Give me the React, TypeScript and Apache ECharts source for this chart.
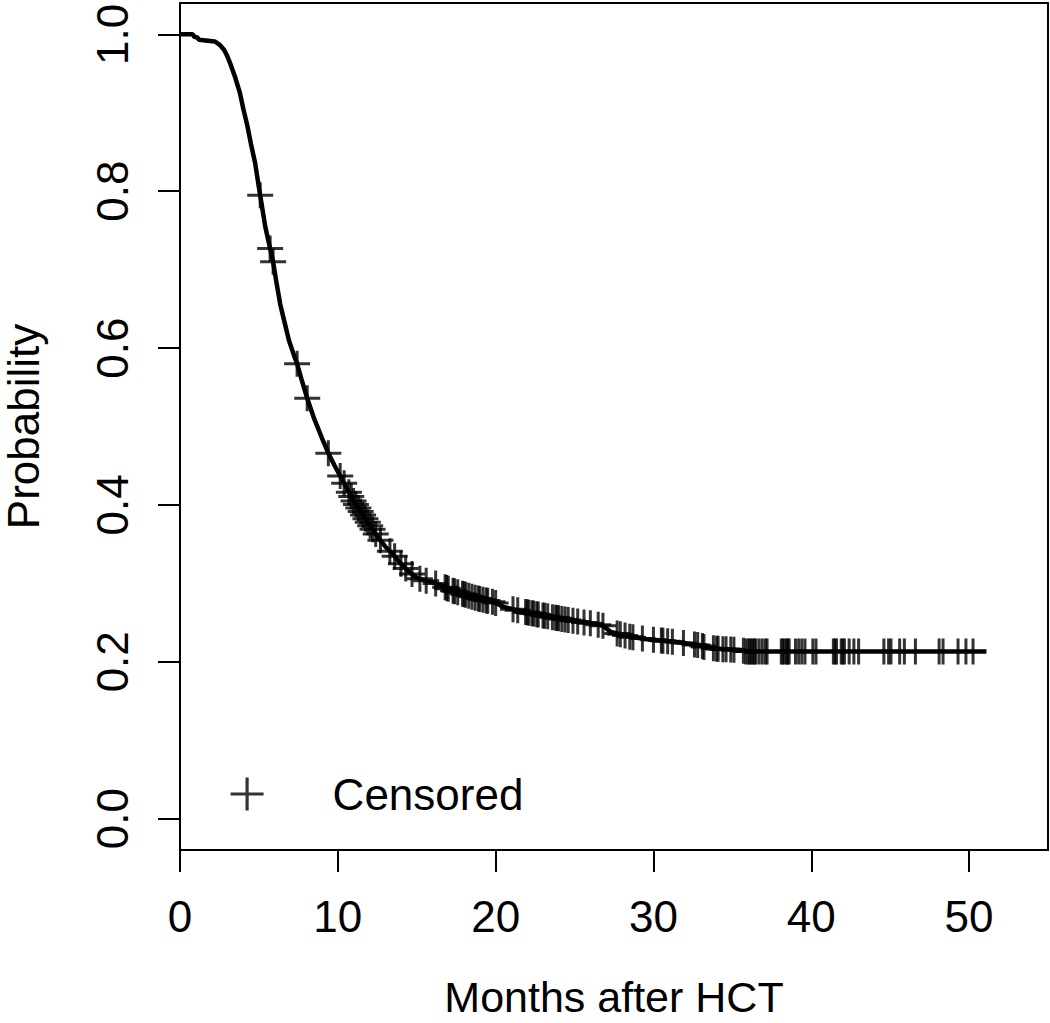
import React, { useEffect, useRef } from "react";
import * as echarts from "echarts";

const curveTimes = [0, 0.8, 0.9, 1.1, 1.2, 2.2, 2.5, 2.8, 3.0, 3.2, 3.5, 3.8, 4.0, 4.25, 4.5, 4.76, 5.0, 5.2, 5.4, 5.71, 5.9, 6.1, 6.35, 6.6, 6.9, 7.2, 7.42, 7.7, 8.06, 8.5, 9.0, 9.4, 9.8, 10.15, 10.6, 11.0, 11.5, 12.0, 12.5, 13.0, 13.5, 14.0, 14.5, 15.0, 16.0, 16.5, 17.1, 18.0, 19.0, 19.9, 20.5, 21.1, 22.0, 23.0, 24.1, 25.0, 26.0, 26.8, 27.3, 27.7, 28.5, 29.5, 30.5, 31.9, 33.0, 33.3, 34.4, 35.6, 35.8, 51.1];
const curveSurv = [1.0, 1.0, 0.997, 0.996, 0.993, 0.991, 0.987, 0.98, 0.972, 0.962, 0.945, 0.925, 0.906, 0.885, 0.86, 0.836, 0.805, 0.78, 0.755, 0.727, 0.71, 0.685, 0.656, 0.635, 0.61, 0.592, 0.58, 0.56, 0.536, 0.51, 0.485, 0.466, 0.45, 0.437, 0.42, 0.405, 0.39, 0.375, 0.36, 0.347, 0.337, 0.325, 0.315, 0.307, 0.301, 0.298, 0.292, 0.286, 0.28, 0.276, 0.27, 0.267, 0.263, 0.259, 0.255, 0.252, 0.249, 0.246, 0.238, 0.236, 0.232, 0.229, 0.227, 0.224, 0.221, 0.218, 0.216, 0.215, 0.213, 0.213];

const censorTimes = [
  5.08, 5.71, 5.9, 7.42, 8.06, 9.4, 10.15,
  10.4, 10.7, 10.85, 11.0, 11.15, 11.3, 11.45, 11.6, 11.75, 11.9, 12.05, 12.2, 12.4, 12.7,
  13.3, 13.6, 14.0, 14.3, 14.7, 15.2,
  15.6, 16.2, 16.8, 16.9, 17.0, 17.3, 17.4, 17.6, 17.9, 18.0, 18.1, 18.3, 18.5, 18.7, 18.9, 19.0, 19.2, 19.4, 19.5, 19.8, 20.0,
  21.1, 21.4, 21.9, 22.0, 22.1, 22.3, 22.4, 22.6, 22.7, 23.0, 23.1, 23.3, 23.6, 23.8, 23.9, 24.0, 24.2, 24.4, 24.6, 24.9, 25.2, 25.6, 26.0, 26.5, 26.8,
  27.7, 27.9, 28.2, 28.5, 28.7, 29.3, 30.0, 30.5, 30.6, 30.9, 31.2, 31.9, 32.6, 32.8, 33.1, 33.2,
  33.8, 34.0, 34.1, 34.4, 34.6, 34.9, 35.1, 35.7, 35.85, 36.0, 36.1, 36.2, 36.3, 36.4, 36.5, 36.7, 36.9, 37.1, 37.2,
  38.1, 38.2, 38.3, 38.45, 38.5, 38.6, 39.0, 39.2, 39.4, 39.6, 40.1, 40.3, 41.4, 41.5, 41.6, 41.9, 42.0, 42.1, 42.4, 42.7, 43.0,
  44.6, 44.9, 45.05, 45.6, 45.9, 46.6, 48.1, 48.35, 49.3, 49.8, 50.25,
];

const xTicks = [0, 10, 20, 30, 40, 50];
const yTicks = [0, 0.2, 0.4, 0.6, 0.8, 1.0];

const FONT = "Liberation Sans";
const PLUS = "path://M0,-10 L0,10 M-10,0 L10,0";

function survAt(t: number): number {
  for (let i = 1; i < curveTimes.length; i++) {
    if (t <= curveTimes[i]) {
      const t0 = curveTimes[i - 1], t1 = curveTimes[i];
      const s0 = curveSurv[i - 1], s1 = curveSurv[i];
      return s0 + ((t - t0) / (t1 - t0)) * (s1 - s0);
    }
  }
  return curveSurv[curveSurv.length - 1];
}

export default function App() {
  const ref = useRef<HTMLDivElement>(null);
  useEffect(() => {
    if (!ref.current) return;
    const chart = echarts.init(ref.current, undefined, { renderer: "svg" });
    const curveData = curveTimes.map((t, i) => [t, curveSurv[i]]);
    const censorData = censorTimes.map((t) => [t, survAt(t)]);
    chart.setOption({
      animation: false,
      backgroundColor: "#fff",
      grid: {
        left: 180,
        top: 3,
        width: 868,
        height: 847,
        containLabel: false,
        outerBoundsMode: "none",
        show: true,
        borderColor: "#000",
        borderWidth: 2,
        backgroundColor: "transparent",
      },
      legend: {
        data: ["Censored"],
        left: 224,
        top: 767,
        icon: PLUS,
        itemWidth: 33,
        itemHeight: 33,
        itemStyle: { color: "transparent", borderColor: "#000", borderWidth: 3.2 },
        textStyle: { fontFamily: FONT, fontSize: 44, color: "#000", padding: [0, 0, 0, 64] },
      },
      xAxis: {
        type: "value",
        min: 0,
        max: 55,
        name: "Months after HCT",
        nameLocation: "middle",
        nameGap: 128,
        nameTextStyle: { fontFamily: FONT, fontSize: 43, lineHeight: 38, color: "#000" },
        axisLine: { show: false, onZero: false },
        splitLine: { show: false },
        axisTick: { show: true, length: 22, lineStyle: { color: "#000", width: 2 }, customValues: xTicks },
        axisLabel: { fontFamily: FONT, fontSize: 44, color: "#000", margin: 44, customValues: xTicks },
      },
      yAxis: {
        type: "value",
        min: -0.04,
        max: 1.04,
        name: "Probability",
        nameLocation: "middle",
        nameGap: 137,
        nameTextStyle: { fontFamily: FONT, fontSize: 44, lineHeight: 40, color: "#000" },
        axisLine: { show: false, onZero: false },
        splitLine: { show: false },
        axisTick: { show: true, length: 22, lineStyle: { color: "#000", width: 2 }, customValues: yTicks },
        axisLabel: {
          fontFamily: FONT,
          fontSize: 44,
          color: "#000",
          margin: 46,
          rotate: 90,
          customValues: yTicks,
          formatter: (v: number) => v.toFixed(1),
        },
      },
      series: [
        {
          name: "Survival",
          type: "line",
          data: curveData,
          showSymbol: false,
          symbol: "none",
          lineStyle: { color: "#000", width: 4.5 },
          z: 2,
        },
        {
          name: "Censored",
          type: "scatter",
          data: censorData,
          symbol: PLUS,
          symbolSize: 26,
          itemStyle: { color: "transparent", borderColor: "#000", borderWidth: 3 },
          z: 3,
        },
      ],
    });
    return () => chart.dispose();
  }, []);
  return (
    <div
      ref={ref}
      style={{ position: "absolute", left: 0, top: 0, width: 1050, height: 1023, background: "#fff" }}
    />
  );
}
